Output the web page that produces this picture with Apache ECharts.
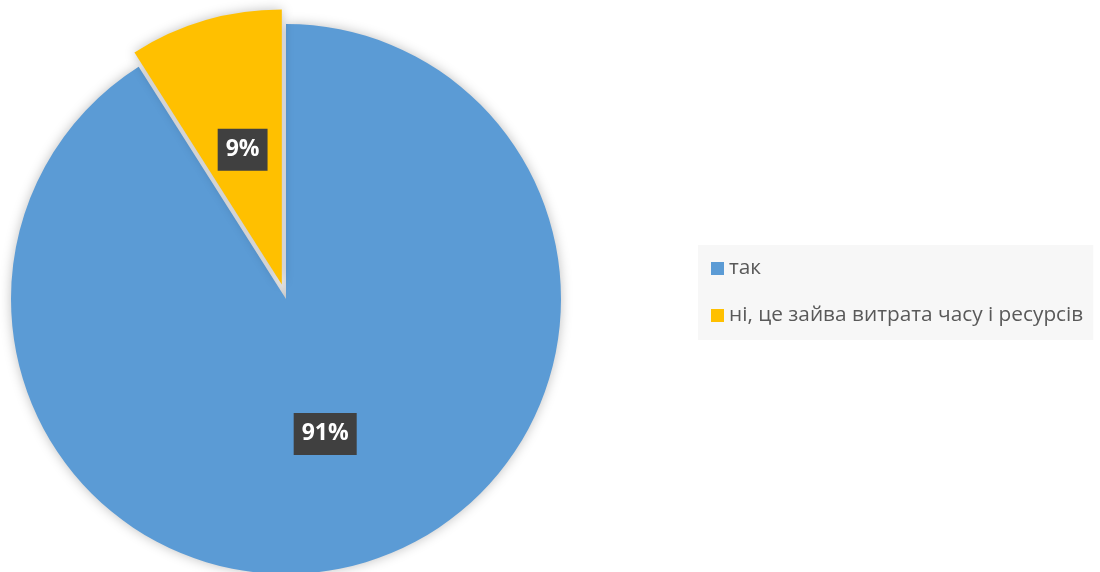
<!DOCTYPE html>
<html>
<head>
<meta charset="utf-8">
<script src="https://cdn.jsdelivr.net/npm/echarts@6/dist/echarts.min.js"></script>
<style>
  html, body { margin: 0; padding: 0; background: #ffffff; }
  #chart { width: 1100px; height: 572px; }
</style>
</head>
<body>
<div id="chart"></div>
<script>
// Survey answers and their shares (percent)
const categories = ['так', 'ні, це зайва витрата часу і ресурсів'];
const shares = [91, 9];
const colors = ['#5B9BD5', '#FFC000'];

const chart = echarts.init(document.getElementById('chart'), null, { renderer: 'canvas' });

const pieData = categories.map((name, i) => ({
  name: name,
  value: shares[i],
  selected: i === 1,
  itemStyle: { color: colors[i] }
}));

chart.setOption({
  animation: false,
  backgroundColor: '#ffffff',
  legend: {
    orient: 'vertical',
    left: 698,
    top: 245,
    backgroundColor: '#f7f7f7',
    padding: [13, 10, 14, 13],
    itemGap: 26,
    itemWidth: 13,
    itemHeight: 13,
    icon: 'rect',
    selectedMode: false,
    textStyle: {
      color: '#595959',
      fontSize: 20.8,
      lineHeight: 20,
      fontFamily: 'Open Sans'
    },
    data: categories
  },
  series: [{
    type: 'pie',
    center: [286, 299],
    radius: 275,
    startAngle: 90,
    clockwise: true,
    selectedMode: 'single',
    selectedOffset: 15,
    avoidLabelOverlap: false,
    itemStyle: {
      shadowBlur: 12,
      shadowColor: 'rgba(0,0,0,0.25)'
    },
    label: {
      show: true,
      position: 'inside',
      formatter: '{d}%',
      color: '#ffffff',
      fontSize: 23,
      lineHeight: 26,
      fontWeight: 'bold',
      fontFamily: 'Open Sans',
      backgroundColor: '#404040',
      padding: [8, 8, 8, 8],
      boxShadowBlur: 5,
      boxShadowOffsetX: 3,
      boxShadowOffsetY: 3,
      boxShadowColor: 'rgba(0,0,0,0.45)'
    },
    labelLine: { show: false },
    emphasis: { disabled: true },
    data: pieData
  }]
});
</script>
</body>
</html>
